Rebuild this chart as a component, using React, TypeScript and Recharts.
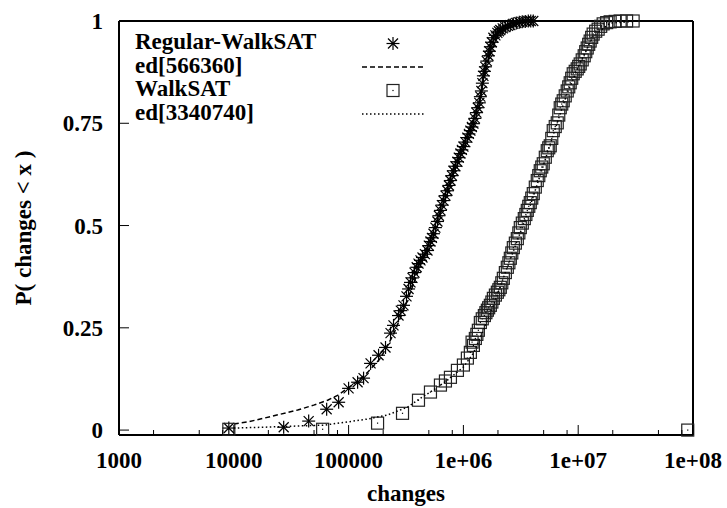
import { ScatterChart, Scatter, XAxis, YAxis } from "recharts";

// values: [changes, P(changes < x)]
const regularWalkSAT: [number, number][] = [
  [9050, 0.005], [27200, 0.007], [44900, 0.022], [64400, 0.051], [81900, 0.068],
  [100000, 0.102], [119800, 0.117], [135000, 0.127], [155400, 0.163], [182400, 0.183],
  [209700, 0.202], [231900, 0.237], [246200, 0.256], [272200, 0.28], [285000, 0.292],
  [300900, 0.305], [319400, 0.327], [333000, 0.345], [346100, 0.361], [360000, 0.372],
  [374900, 0.385], [392000, 0.398], [406200, 0.407], [423000, 0.415], [440000, 0.422],
  [462000, 0.43], [486400, 0.439], [500000, 0.451], [516500, 0.461], [532000, 0.47],
  [548500, 0.48], [570000, 0.495], [594200, 0.51], [612000, 0.524], [631000, 0.537],
  [650000, 0.55], [670000, 0.561], [698000, 0.573], [726000, 0.585], [748000, 0.598],
  [771000, 0.61], [795000, 0.622], [818500, 0.634], [852000, 0.645], [887000, 0.656],
  [912000, 0.666], [941700, 0.676], [970000, 0.685], [1000000, 0.693], [1040000, 0.704],
  [1083000, 0.715], [1117000, 0.724], [1150000, 0.732], [1186000, 0.741], [1222000, 0.749],
  [1260000, 0.762], [1297000, 0.776], [1337000, 0.788], [1377000, 0.8], [1405000, 0.815],
  [1434000, 0.829], [1463000, 0.848], [1493000, 0.866], [1523000, 0.877], [1554000, 0.888],
  [1600000, 0.902], [1650000, 0.915], [1683000, 0.926], [1717000, 0.937], [1770000, 0.948],
  [1824000, 0.959], [1900000, 0.965], [1976000, 0.971], [2036000, 0.975], [2097000, 0.978],
  [2200000, 0.982], [2319000, 0.985], [2440000, 0.988], [2563000, 0.99], [2720000, 0.993],
  [2890000, 0.995], [3070000, 0.997], [3258000, 0.998], [3460000, 0.999], [3675000, 1],
  [3860000, 1], [4062000, 1],
];

const ed566360: [number, number][] = [
  [10000, 0.015], [13230, 0.02], [18240, 0.029], [25630, 0.039], [36020, 0.049],
  [49620, 0.061], [65680, 0.073], [80230, 0.085], [98020, 0.102], [119800, 0.12],
  [146300, 0.141], [189800, 0.176], [246200, 0.234], [313100, 0.305], [406200, 0.39],
  [516500, 0.468], [670000, 0.554], [835000, 0.639], [1083000, 0.72], [1350000, 0.795],
  [1650000, 0.905], [2015000, 0.968], [2563000, 0.99], [3461000, 0.999], [5164000, 1],
];

const walkSAT: [number, number][] = [
  [9050, 0.002], [59400, 0.002], [178800, 0.017], [294900, 0.041], [406200, 0.073],
  [516500, 0.093], [631000, 0.11], [697500, 0.12], [771000, 0.129], [887000, 0.146],
  [1000000, 0.159], [1083000, 0.176], [1150000, 0.19], [1190000, 0.215], [1222000, 0.207],
  [1271000, 0.224], [1310000, 0.234], [1350000, 0.244], [1405000, 0.263], [1460000, 0.272],
  [1523000, 0.28], [1570000, 0.287], [1617000, 0.293], [1660000, 0.299], [1717000, 0.305],
  [1770000, 0.313], [1824000, 0.322], [1900000, 0.33], [1976000, 0.337], [2036000, 0.343],
  [2097000, 0.349], [2160000, 0.36], [2228000, 0.371], [2320000, 0.385], [2413000, 0.398],
  [2490000, 0.409], [2563000, 0.42], [2640000, 0.433], [2722000, 0.446], [2835000, 0.457],
  [2949000, 0.468], [3040000, 0.482], [3131000, 0.495], [3260000, 0.506], [3392000, 0.517],
  [3500000, 0.527], [3602000, 0.537], [3710000, 0.547], [3825000, 0.556], [3940000, 0.567],
  [4062000, 0.578], [4230000, 0.594], [4400000, 0.61], [4535000, 0.622], [4672000, 0.634],
  [4815000, 0.643], [4962000, 0.651], [5170000, 0.667], [5375000, 0.683], [5540000, 0.69],
  [5708000, 0.695], [5885000, 0.713], [6062000, 0.732], [6310000, 0.742], [6568000, 0.751],
  [6770000, 0.77], [6974000, 0.788], [7190000, 0.797], [7406000, 0.805], [7710000, 0.817],
  [8022000, 0.829], [8270000, 0.839], [8519000, 0.849], [8780000, 0.86], [9050000, 0.871],
  [9420000, 0.877], [9802000, 0.883], [10100000, 0.889], [10410000, 0.895], [10840000, 0.905],
  [11280000, 0.915], [11630000, 0.925], [11980000, 0.934], [12340000, 0.943], [12710000, 0.951],
  [13100000, 0.96], [13500000, 0.968], [14200000, 0.975], [14920000, 0.98], [15700000, 0.987],
  [16500000, 0.993], [17700000, 0.996], [18980000, 0.998], [21000000, 0.999], [23190000, 1],
  [26400000, 1], [30090000, 1], [90000000, 0],
];

const ed3340740: [number, number][] = [
  [10000, 0.005], [18240, 0.007], [36020, 0.01], [60620, 0.012], [98020, 0.02],
  [146300, 0.027], [218400, 0.037], [325800, 0.056], [422800, 0.078], [548500, 0.098],
  [726000, 0.122], [1000000, 0.154], [1222000, 0.188], [1493000, 0.244], [1824000, 0.305],
  [2319000, 0.385], [2949000, 0.463], [3825000, 0.549], [4962000, 0.646], [6310000, 0.737],
  [8022000, 0.824], [10410000, 0.898], [13500000, 0.963], [18980000, 0.995], [34610000, 1],
];

const xMajorTicks = [1000, 10000, 100000, 1000000, 10000000, 100000000];
const xTickLabels = ["1000", "10000", "100000", "1e+06", "1e+07", "1e+08"];
const xMinorFactors = [2, 5, 8];
const yTicks = [0, 0.25, 0.5, 0.75, 1];
const yTickLabels = ["0", "0.25", "0.5", "0.75", "1"];
const legendLabels = ["Regular-WalkSAT", "ed[566360]", "WalkSAT", "ed[3340740]"];

const xAllTicks = [
  ...xMajorTicks,
  ...xMajorTicks.slice(0, -1).flatMap((d) => xMinorFactors.map((f) => d * f)),
].sort((a, b) => a - b);

const toPoints = (s: [number, number][]) => s.map(([x, y]) => ({ x, y }));

const FONT = "'Liberation Serif', 'Times New Roman', serif";
const W = 727;
const H = 508;

const Star = ({ cx, cy }: any) => (
  <g stroke="#000" strokeWidth={1.2}>
    <line x1={cx - 6.5} x2={cx + 6.5} y1={cy} y2={cy} />
    <line x1={cx} x2={cx} y1={cy - 6.5} y2={cy + 6.5} />
    <line x1={cx - 5} x2={cx + 5} y1={cy - 5} y2={cy + 5} />
    <line x1={cx - 5} x2={cx + 5} y1={cy + 5} y2={cy - 5} />
  </g>
);

const Box = ({ cx, cy }: any) => (
  <g>
    <rect x={cx - 6} y={cy - 6} width={12} height={12} fill="none" stroke="#222" strokeWidth={1.2} />
    <rect x={cx - 0.6} y={cy - 0.6} width={1.2} height={1.2} fill="#000" />
  </g>
);

const Nothing = () => <g />;

function BottomTick({ x, y, payload }: any) {
  const i = xMajorTicks.indexOf(payload.value);
  return (
    <g>
      <line x1={x} x2={x} y1={y} y2={y - (i >= 0 ? 10 : 5)} stroke="#000" />
      {i >= 0 && (
        <text x={x} y={y + 33} textAnchor="middle" fontFamily={FONT} fontWeight="bold" fontSize={23} fill="#000">
          {xTickLabels[i]}
        </text>
      )}
    </g>
  );
}

function TopTick({ x, y, payload }: any) {
  const major = xMajorTicks.includes(payload.value);
  return <line x1={x} x2={x} y1={y} y2={y + (major ? 10 : 5)} stroke="#000" />;
}

function LeftTick({ x, y, payload }: any) {
  const i = yTicks.indexOf(payload.value);
  return (
    <g>
      <line x1={x} x2={x + 10} y1={y} y2={y} stroke="#000" />
      <text x={x - 16} y={y + 8} textAnchor="end" fontFamily={FONT} fontWeight="bold" fontSize={23} fill="#000">
        {yTickLabels[i]}
      </text>
    </g>
  );
}

function RightTick({ x, y }: any) {
  return <line x1={x} x2={x - 10} y1={y} y2={y} stroke="#000" />;
}

const xLabel = ({ viewBox }: any) => (
  <text x={viewBox.x + viewBox.width / 2} y={viewBox.y + 66} textAnchor="middle" fontFamily={FONT} fontWeight="bold" fontSize={23} fill="#000">
    changes
  </text>
);

const yLabel = ({ viewBox }: any) => {
  const cx = 30.5;
  const cy = viewBox.y + viewBox.height / 2;
  return (
    <text x={cx} y={cy} transform={`rotate(-90, ${cx}, ${cy})`} textAnchor="middle" fontFamily={FONT} fontWeight="bold" fontSize={23} fill="#000">
      P( changes &lt; x )
    </text>
  );
};

export default function App() {
  const rows = [49, 72.5, 96, 119.5];
  return (
    <div style={{ position: "relative", width: W, height: H }}>
      <style>{"html, body { margin: 0; padding: 0; overflow: hidden; }"}</style>
      <ScatterChart width={W} height={H} margin={{ top: 0, right: 0, bottom: 0, left: 0 }}>
        <XAxis xAxisId="bottom" dataKey="x" type="number" scale="log" domain={[1000, 100000000]}
          ticks={xAllTicks} interval={0} tickSize={0} tickMargin={0} tickLine={false} height={73}
          axisLine={{ stroke: "#000", strokeWidth: 2 }} tick={<BottomTick />} label={xLabel} />
        <XAxis xAxisId="top" orientation="top" dataKey="x" type="number" scale="log" domain={[1000, 100000000]}
          ticks={xAllTicks} interval={0} tickSize={0} tickMargin={0} tickLine={false} height={21}
          axisLine={{ stroke: "#000", strokeWidth: 2 }} tick={<TopTick />} />
        <YAxis yAxisId="left" dataKey="y" type="number" scale="linear" domain={[-0.012, 1]}
          ticks={yTicks} interval={0} tickSize={0} tickMargin={0} tickLine={false} width={119}
          axisLine={{ stroke: "#000", strokeWidth: 2 }} tick={<LeftTick />} label={yLabel} />
        <YAxis yAxisId="right" orientation="right" dataKey="y" type="number" scale="linear" domain={[-0.012, 1]}
          ticks={yTicks} interval={0} tickSize={0} tickMargin={0} tickLine={false} width={34}
          axisLine={{ stroke: "#000", strokeWidth: 2 }} tick={<RightTick />} />
        <Scatter xAxisId="bottom" yAxisId="left" data={toPoints(regularWalkSAT)} shape={Star} isAnimationActive={false} />
        <Scatter xAxisId="bottom" yAxisId="left" data={toPoints(ed566360)} shape={Nothing}
          line={{ stroke: "#000", strokeWidth: 1.5, strokeDasharray: "5 3" }} lineType="joint" isAnimationActive={false} />
        <Scatter xAxisId="bottom" yAxisId="left" data={toPoints(walkSAT)} shape={Box} isAnimationActive={false} />
        <Scatter xAxisId="bottom" yAxisId="left" data={toPoints(ed3340740)} shape={Nothing}
          line={{ stroke: "#000", strokeWidth: 1.5, strokeDasharray: "1.5 2.5" }} lineType="joint" isAnimationActive={false} />
      </ScatterChart>
      <svg width={W} height={H} style={{ position: "absolute", left: 0, top: 0, pointerEvents: "none" }}>
        {legendLabels.map((name, i) => (
          <text key={name} x={135} y={rows[i]} fontFamily={FONT} fontWeight="bold" fontSize={23} fill="#000">
            {name}
          </text>
        ))}
        <Star cx={393} cy={rows[0] - 5.5} />
        <line x1={362} x2={425} y1={rows[1] - 5.5} y2={rows[1] - 5.5} stroke="#000" strokeWidth={1.5} strokeDasharray="5 3" />
        <Box cx={393} cy={rows[2] - 5.5} />
        <line x1={362} x2={425} y1={rows[3] - 5.5} y2={rows[3] - 5.5} stroke="#000" strokeWidth={1.5} strokeDasharray="1.5 2.5" />
      </svg>
    </div>
  );
}
